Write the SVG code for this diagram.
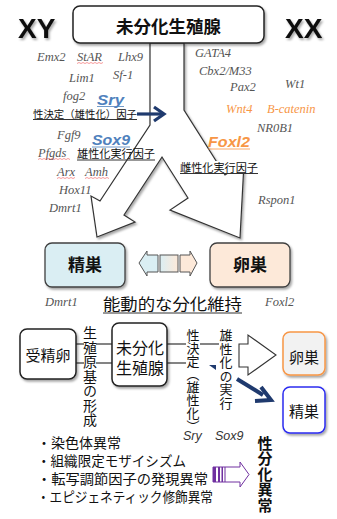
<svg xmlns="http://www.w3.org/2000/svg" width="337" height="519" viewBox="0 0 337 519">
<defs>
<filter id="sh" x="-20%" y="-20%" width="140%" height="140%"><feDropShadow dx="1.5" dy="2" stdDeviation="1.2" flood-color="#000" flood-opacity="0.35"/></filter>
<linearGradient id="mid" x1="0" x2="1" y1="0" y2="0"><stop offset="0" stop-color="#DAEEF3"/><stop offset="1" stop-color="#FDE9D9"/></linearGradient>
<style>
.jp{font-family:"Noto Sans CJK JP",sans-serif;fill:#111}
.jb{font-family:"Noto Sans CJK JP",sans-serif;font-weight:bold;fill:#111}
.v{writing-mode:vertical-rl}
.g{font-family:"Liberation Serif",serif;font-style:italic;font-size:12.5px;fill:#555}
.o{font-family:"Liberation Serif",serif;font-style:italic;font-size:12.5px;fill:#F79646}
.key{font-family:"Liberation Sans",sans-serif;font-style:italic;font-weight:bold;font-size:14.5px}
.xy{font-family:"Liberation Sans",sans-serif;font-weight:bold;font-size:28px;fill:#111}
.ln{stroke:#333;stroke-width:1.2;fill:none}
.ul{stroke:#333;stroke-width:1;fill:none}
.red{stroke:#e33;stroke-width:0.7;fill:none;opacity:0.7}
.box{fill:#fff;stroke:#222;stroke-width:1.5}
</style>
</defs>
<rect width="337" height="519" fill="#fff"/>

<g id="split-arrow">
<path filter="url(#sh)" d="M150,43 L150,125 L100,201 L91,196 L97,237 L135,222 L124,215 L162,157 L188,198 L170,210 L240,238 L244,163 L225,175 L184,110 L184,43 Z" fill="#fff" stroke="#333" stroke-width="1.2" stroke-linejoin="miter"/>
</g>

<g id="top-box">
<rect x="73" y="6" width="191" height="37" rx="7" class="box" filter="url(#sh)"/>
<text x="168.5" y="32.5" class="jb" font-size="17.5" text-anchor="middle">未分化生殖腺</text>
</g>
<g id="xy"><text x="18" y="38" class="xy" filter="url(#sh)">XY</text></g>
<g id="xx"><text x="285" y="38" class="xy" filter="url(#sh)">XX</text></g>

<g id="male-genes">
<text x="37" y="61" class="g">Emx2</text>
<text x="77" y="61" class="g">StAR</text>
<path class="red" d="M77,63.5 l2,-1 l2,1 l2,-1 l2,1 l2,-1 l2,1 l2,-1 l2,1 l2,-1 l2,1 l2,-1 l2,1 l2,-1"/>
<text x="118" y="61" class="g">Lhx9</text>
<text x="69" y="82" class="g">Lim1</text>
<text x="113" y="79" class="g">Sf-1</text>
<text x="63" y="100" class="g">fog2</text>
<text x="97" y="104.5" class="key" fill="#4F81BD" textLength="27" lengthAdjust="spacingAndGlyphs">Sry</text>
<line x1="97" y1="106.5" x2="124" y2="106.5" stroke="#4F81BD" stroke-width="0.8"/>
<text x="33" y="117.5" class="jp" font-size="10.4" textLength="104" lengthAdjust="spacingAndGlyphs">性決定（雄性化）因子</text>
<line class="ul" x1="33" y1="119.5" x2="137" y2="119.5"/>
<text x="57" y="139" class="g">Fgf9</text>
<text x="92" y="145" class="key" fill="#4F81BD" textLength="38" lengthAdjust="spacingAndGlyphs">Sox9</text>
<line x1="92" y1="147" x2="130" y2="147" stroke="#4F81BD" stroke-width="0.8"/>
<text x="38" y="157" class="g">Pfgds</text>
<path class="red" d="M38,159.5 l2,-1 l2,1 l2,-1 l2,1 l2,-1 l2,1 l2,-1 l2,1 l2,-1 l2,1 l2,-1 l2,1 l2,-1 l2,1 l2,-1 l2,1"/>
<text x="77" y="158" class="jp" font-size="11" textLength="78" lengthAdjust="spacingAndGlyphs">雄性化実行因子</text>
<line class="ul" x1="77" y1="160" x2="155" y2="160"/>
<text x="57" y="176" class="g">Arx</text>
<path class="red" d="M57,178.5 l2,-1 l2,1 l2,-1 l2,1 l2,-1 l2,1 l2,-1 l2,1 l2,-1"/>
<text x="85" y="176" class="g">Amh</text>
<path class="red" d="M85,178.5 l2,-1 l2,1 l2,-1 l2,1 l2,-1 l2,1 l2,-1 l2,1 l2,-1 l2,1 l2,-1 l2,1"/>
<text x="59" y="194" class="g">Hox11</text>
<text x="49" y="212" class="g">Dmrt1</text>
</g>

<g id="female-genes">
<text x="195" y="57" class="g">GATA4</text>
<text x="199" y="75" class="g">Cbx2/M33</text>
<text x="230" y="91" class="g">Pax2</text>
<text x="285" y="88" class="g">Wt1</text>
<text x="226" y="113" class="o">Wnt4</text>
<text x="267" y="113" class="o">B-catenin</text>
<text x="257" y="132" class="g">NR0B1</text>
<text x="208" y="147" class="key" fill="#F79646" textLength="42" lengthAdjust="spacingAndGlyphs">Foxl2</text>
<line x1="208" y1="149" x2="250" y2="149" stroke="#F79646" stroke-width="0.8"/>
<rect x="180" y="161" width="78" height="12" fill="#fff"/>
<text x="180" y="171.5" class="jp" font-size="11" textLength="78" lengthAdjust="spacingAndGlyphs">雌性化実行因子</text>
<line class="ul" x1="180" y1="173.5" x2="258" y2="173.5"/>
<text x="258" y="204" class="g">Rspon1</text>
</g>

<g id="connectors">
<line x1="137" y1="114" x2="162" y2="114" stroke="#1F3A6E" stroke-width="3.2"/>
<polyline points="154,107 164,114 154,121" fill="none" stroke="#1F3A6E" stroke-width="3.2"/>
<polygon points="139,263 147,251 147,255 158,255 158,272 147,272 147,276" fill="#DAEEF3" stroke="#555" stroke-width="1"/>
<rect x="160" y="255" width="18" height="17" fill="url(#mid)" stroke="#555" stroke-width="1"/>
<polygon points="180,255 190,255 190,251 197,263 190,276 190,272 180,272" fill="#FDE9D9" stroke="#555" stroke-width="1"/>
<line class="ln" x1="76" y1="344" x2="84" y2="344"/>
<line class="ln" x1="96" y1="344" x2="112" y2="344"/>
<line class="ln" x1="76" y1="363" x2="84" y2="363"/>
<line class="ln" x1="96" y1="363" x2="112" y2="363"/>
<line class="ln" x1="167" y1="344" x2="186" y2="344"/>
<line class="ln" x1="167" y1="363" x2="186" y2="363"/>
<line class="ln" x1="200" y1="344" x2="219" y2="344"/>
<polygon points="209,365 216,365 216,370" fill="#1F3A6E"/>
<polygon points="239,344 248,344 248,335 276,355 248,375 248,367 239,367" fill="#fff" stroke="#333" stroke-width="1.1"/>
<line x1="237" y1="379" x2="263" y2="395" stroke="#1F3A6E" stroke-width="4"/>
<polyline points="261,387 271,400 255,401" fill="none" stroke="#1F3A6E" stroke-width="4"/>
<polygon points="213,467 240,467 240,462 249,474.5 240,487 240,482 213,482" fill="#fff" stroke="#7030A0" stroke-width="1"/>
<rect x="213" y="467" width="3" height="15" fill="#7030A0"/>
<rect x="218" y="467" width="2" height="15" fill="#7030A0"/>
<rect x="221.5" y="467" width="1.5" height="15" fill="#7030A0"/>
<rect x="224.5" y="467" width="1" height="15" fill="#7030A0"/>
</g>

<g id="testis">
<rect x="45" y="243" width="80" height="44" rx="7" fill="#DAEEF3" stroke="#404040" stroke-width="1.3" filter="url(#sh)"/>
<text x="85" y="271" class="jb" font-size="17" text-anchor="middle">精巣</text>
</g>
<g id="ovary">
<rect x="210" y="243" width="80" height="44" rx="7" fill="#FDE9D9" stroke="#404040" stroke-width="1.3" filter="url(#sh)"/>
<text x="250" y="271" class="jb" font-size="17" text-anchor="middle">卵巣</text>
</g>

<g id="maintenance">
<text x="45" y="306" class="g" font-size="12">Dmrt1</text>
<text x="103" y="309.5" class="jp" font-size="16" textLength="139" lengthAdjust="spacingAndGlyphs">能動的な分化維持</text>
<line class="ul" x1="103" y1="313" x2="242" y2="313"/>
<text x="265" y="306" class="g" font-size="12">Foxl2</text>
</g>

<g id="zygote">
<rect x="20" y="329" width="56" height="50" rx="7" class="box" filter="url(#sh)"/>
<text x="48" y="360.5" class="jp" font-size="15" text-anchor="middle">受精卵</text>
</g>
<g id="primordium-label">
<text x="90" y="326" class="jp v" font-size="14" letter-spacing="0.5">生殖原基の形成</text>
</g>
<g id="undiff-gonad">
<rect x="112" y="323" width="55" height="63" rx="7" class="box" filter="url(#sh)"/>
<text x="140" y="353.5" class="jp" font-size="16" text-anchor="middle">未分化</text>
<text x="140" y="373.5" class="jp" font-size="16" text-anchor="middle">生殖腺</text>
</g>
<g id="sex-determination-label">
<text x="193" y="328.5" class="jp v" font-size="13">性決定（雄性化）</text>
<text x="183" y="440" font-family="Liberation Sans, sans-serif" font-style="italic" font-size="12.5" fill="#333">Sry</text>
</g>
<g id="masculinization-label">
<text x="226" y="328.5" class="jp v" font-size="13" letter-spacing="0.6">雄性化の実行</text>
<text x="215" y="440" font-family="Liberation Sans, sans-serif" font-style="italic" font-size="12.5" fill="#333">Sox9</text>
</g>
<g id="ovary-small">
<rect x="283" y="332" width="42" height="43" rx="7" fill="#F2F2F2" stroke="#F79646" stroke-width="1.5" filter="url(#sh)"/>
<text x="304" y="363" class="jp" font-size="15" text-anchor="middle">卵巣</text>
</g>
<g id="testis-small">
<rect x="283" y="387" width="42" height="46" rx="7" fill="#fff" stroke="#2B2BF0" stroke-width="1.5" filter="url(#sh)"/>
<text x="304" y="417" class="jp" font-size="15" text-anchor="middle">精巣</text>
</g>

<g id="causes">
<text x="37" y="448" class="jp" font-size="14">・染色体異常</text>
<text x="37" y="466" class="jp" font-size="14" textLength="149" lengthAdjust="spacingAndGlyphs">・組織限定モザイシズム</text>
<text x="37" y="483.5" class="jp" font-size="14" textLength="171" lengthAdjust="spacingAndGlyphs">・転写調節因子の発現異常</text>
<text x="37" y="502" class="jp" font-size="14" textLength="176" lengthAdjust="spacingAndGlyphs">・エピジェネティック修飾異常</text>
</g>
<g id="dsd">
<text x="265" y="435.5" class="jb v" font-size="15" letter-spacing="0.5">性分化異常</text>
</g>
</svg>
